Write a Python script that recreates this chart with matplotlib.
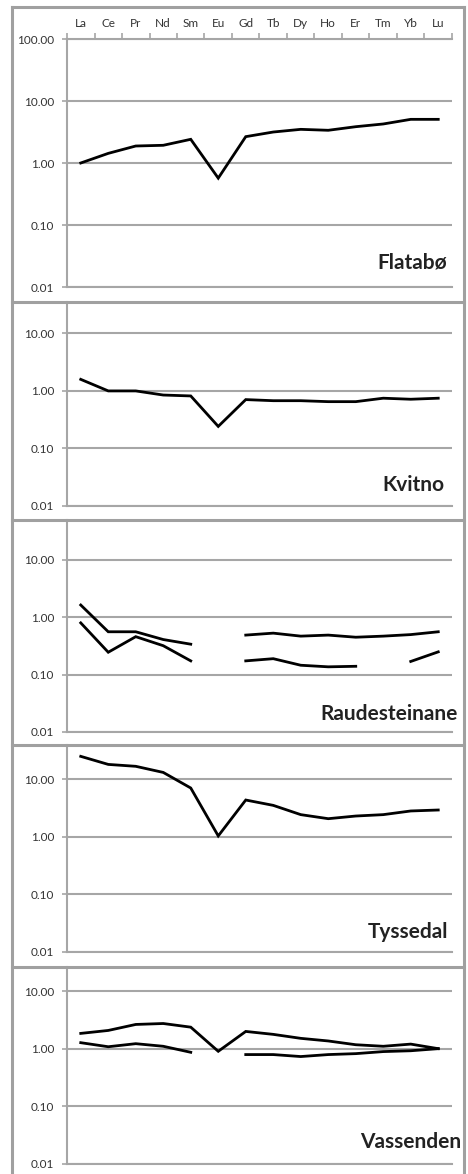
"""REE-diagram, fem paneler (Flatabø, Kvitno, Raudesteinane, Tyssedal, Vassenden)"""

import matplotlib.pyplot as plt
import numpy as np
from matplotlib.lines import Line2D
from matplotlib.ticker import FixedLocator, NullLocator

plt.rcParams["font.family"] = ["Lato", "DejaVu Sans"]

elements = ["La", "Ce", "Pr", "Nd", "Sm", "Eu", "Gd", "Tb", "Dy", "Ho", "Er", "Tm", "Yb", "Lu"]
nan = np.nan

flatabo = [1.00, 1.43, 1.88, 1.93, 2.41, 0.57, 2.66, 3.16, 3.49, 3.37, 3.85, 4.26, 5.06, 5.06]
kvitno = [1.57, 0.99, 0.99, 0.84, 0.81, 0.24, 0.70, 0.67, 0.67, 0.645, 0.645, 0.74, 0.71, 0.74]
raude_a = [1.64, 0.56, 0.56, 0.41, 0.34, nan, 0.49, 0.53, 0.47, 0.49, 0.45, 0.47, 0.50, 0.56]
raude_b = [0.80, 0.246, 0.46, 0.32, 0.174, nan, 0.174, 0.19, 0.146, 0.137, 0.14, nan, 0.17, 0.25]
tyssedal = [24.7, 17.9, 16.6, 13.0, 6.98, 1.03, 4.32, 3.49, 2.41, 2.05, 2.28, 2.41, 2.79, 2.90]
vass_a = [1.84, 2.07, 2.63, 2.73, 2.36, 0.90, 1.99, 1.77, 1.51, 1.36, 1.17, 1.10, 1.20, 1.00]
vass_b = [1.27, 1.08, 1.22, 1.10, 0.865, nan, 0.79, 0.79, 0.73, 0.79, 0.82, 0.89, 0.92, 1.00]

yticks = [0.01, 0.1, 1, 10, 100]
ytick_labels = ["0.01", "0.10", "1.00", "10.00", "100.00"]

W, H = 468, 1174
GRID = "#a6a6a6"
FRAME = "#a0a0a0"
TEXT = "#333333"

# panel: (name, series, y of 0.01 line, y of 10 line, top of axes, label x/y)
panels = [
    ("Flatabø", [flatabo], 287, 101, 39, 447, 262),
    ("Kvitno", [kvitno], 506, 333, 302, 445, 485),
    ("Raudesteinane", [raude_a, raude_b], 732, 560, 520, 458, 714),
    ("Tyssedal", [tyssedal], 952, 779, 745, 448, 932),
    ("Vassenden", [vass_a, vass_b], 1164, 991, 967, 461, 1142),
]

fig = plt.figure(figsize=(W / 100, H / 100), dpi=100, facecolor="white")

x_left, x_right = 67, 452
x = np.arange(len(elements))

for i, (name, series, y001, y10, ytop, lx, ly) in enumerate(panels):
    decade = (y001 - y10) / 3.0
    top_val = 10 ** (1 + (y10 - ytop) / decade)
    ax = fig.add_axes([x_left / W, 1 - y001 / H, (x_right - x_left) / W, (y001 - ytop) / H])
    ax.set_yscale("log")
    ax.set_ylim(0.01, top_val)
    ax.set_xlim(-0.5, len(elements) - 0.5)

    for s in series:
        ax.plot(x, s, color="black", lw=2.0, solid_joinstyle="miter", zorder=3)

    ax.yaxis.set_major_locator(FixedLocator([t for t in yticks if t <= top_val * 1.001]))
    ax.yaxis.set_minor_locator(NullLocator())
    ax.set_yticklabels([l for t, l in zip(yticks, ytick_labels) if t <= top_val * 1.001])
    ax.grid(axis="y", color=GRID, lw=1.5)
    ax.set_axisbelow(True)
    ax.tick_params(axis="y", length=3.6, width=1.2, color=GRID, labelsize=8.5,
                   labelcolor=TEXT, pad=5.5)

    ax.spines["right"].set_visible(False)
    ax.spines["left"].set_color(GRID)
    ax.spines["left"].set_linewidth(1.5)
    ax.spines["bottom"].set_color(GRID)
    ax.spines["bottom"].set_linewidth(1.5)

    if i == 0:
        ax.spines["top"].set_color(GRID)
        ax.spines["top"].set_linewidth(1.5)
        ax.xaxis.tick_top()
        ax.set_xticks(x)
        ax.set_xticklabels(elements)
        ax.xaxis.set_minor_locator(FixedLocator(np.arange(-0.5, len(elements), 1.0)))
        ax.tick_params(axis="x", which="major", length=0, labelsize=8.5,
                       labelcolor=TEXT, pad=7.5)
        ax.tick_params(axis="x", which="minor", length=4.3, width=1.2, color=GRID,
                       top=True, bottom=False, direction="out")
    else:
        ax.spines["top"].set_visible(False)
        ax.set_xticks([])

    fig.text(lx / W, 1 - ly / H, name, ha="right", va="center", fontsize=15,
             fontweight="bold", color="#222222")

# panel frames
def hline(y, x0=12, x1=464):
    fig.add_artist(Line2D([x0 / W, x1 / W], [1 - y / H, 1 - y / H], color=FRAME, lw=2.2))

def vline(xp, y0=7, y1=H):
    fig.add_artist(Line2D([xp / W, xp / W], [1 - y0 / H, 1 - y1 / H], color=FRAME, lw=2.2))

for yb in [7, 302, 520, 745, 967]:
    hline(yb)
vline(12)
vline(464)

fig.savefig("out.png", dpi=100, facecolor="white")
